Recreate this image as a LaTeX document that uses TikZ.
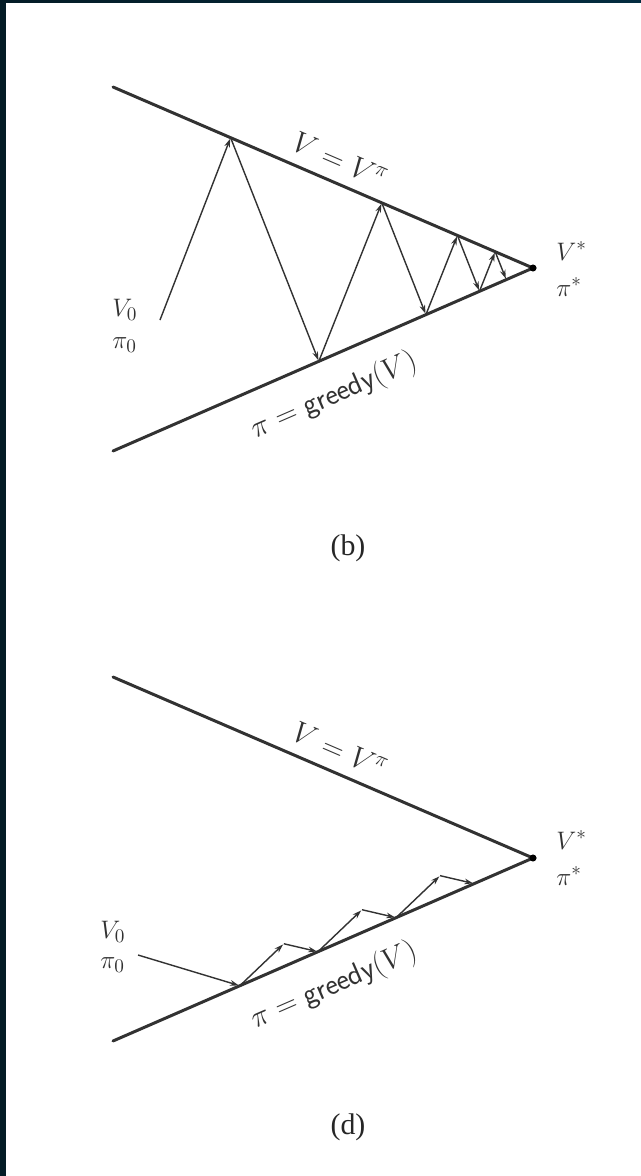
\documentclass[tikz,border=0pt]{standalone}
\usepackage{fontspec}
\newfontfamily\captfont{Liberation Serif}
\usetikzlibrary{arrows.meta, calc}
\definecolor{pagebg}{RGB}{4,28,38}
\definecolor{pagebgr}{RGB}{3,44,64}
\definecolor{inkgray}{RGB}{50,50,50}
\tikzset{
  bound/.style={line width=1.7pt, draw=inkgray, line cap=round},
  iter/.style={-{Stealth[length=5pt,width=3.2pt]}, line width=0.8pt, draw=inkgray, shorten >=0.6pt},
  lbl/.style={font=\fontsize{15}{17}\selectfont, text=inkgray, inner sep=0pt},
  biglbl/.style={lbl, font=\fontsize{17}{19}\selectfont},
  capt/.style={font=\captfont\fontsize{17}{20}\selectfont, text=black!85, inner sep=0pt},
}

\begin{document}
\begin{tikzpicture}[x=0.02cm, y=-0.02cm]
  \fill[pagebg] (0,0) rectangle (641,1176);
  \shade[left color=pagebg, right color=pagebgr] (0,0) rectangle (641,3);
  \fill[white] (6,3) rectangle (641,1176);

  % (b)
  \coordinate (bP) at (113,87);
  \coordinate (bQ) at (113,451);
  \coordinate (bA) at (533,268);
  \coordinate (bS) at (160,320);
  \draw[bound] (bP) -- (bA) -- (bQ);
  \fill[black] (bA) circle (2pt);
  \foreach \i in {0,...,3} {
    \pgfmathsetmacro\ft{0.72/2^\i}
    \pgfmathsetmacro\fb{0.51/2^\i}
    \coordinate (bT\i) at ($(bA)!\ft!(bP)$);
    \coordinate (bB\i) at ($(bA)!\fb!(bQ)$);
  }
  \draw[iter] (bS) -- (bT0);
  \foreach \i [count=\j] in {0,...,3} {
    \draw[iter] (bT\i) -- (bB\i);
    \ifnum\j<4 \draw[iter] (bB\i) -- (bT\j); \fi
  }
  \node[biglbl, rotate=-23.3] (bvpi) at (340,160) {$V = V^{\pi}$};
  \node[biglbl, rotate=23.5] (bgreedy) at (334,396) {$\pi = \mathsf{greedy}(V)$};
  \node[lbl, anchor=west] (bvstar) at (556,251) {$V^{*}$};
  \node[lbl, anchor=west] (bpistar) at (556,287) {$\pi^{*}$};
  \node[lbl, anchor=west] (bvzero) at (112,310) {$V_0$};
  \node[lbl, anchor=west] (bpizero) at (112,345) {$\pi_0$};
  \node[capt] (bcapt) at (348,548) {(b)};

  % (d)
  \coordinate (dP) at (113,677);
  \coordinate (dQ) at (113,1041);
  \coordinate (dA) at (533,858);
  \coordinate (dS) at (138,955);
  \draw[bound] (dP) -- (dA) -- (dQ);
  \fill[black] (dA) circle (2pt);
  \foreach \i in {0,...,3} {
    \pgfmathsetmacro\fl{0.302+0.186*\i}
    \coordinate (dL\i) at ($(dQ)!\fl!(dA)$);
    \coordinate (dH\i) at ($(dL\i)+(44,-42)$);
  }
  \draw[iter] (dS) -- (dL0);
  \foreach \i [count=\j] in {0,1,2} {
    \draw[iter] (dL\i) -- (dH\i);
    \draw[iter] (dH\i) -- (dL\j);
  }
  \node[biglbl, rotate=-23.3] (dvpi) at (340,750) {$V = V^{\pi}$};
  \node[biglbl, rotate=23.5] (dgreedy) at (334,986) {$\pi = \mathsf{greedy}(V)$};
  \node[lbl, anchor=west] (dvstar) at (556,840) {$V^{*}$};
  \node[lbl, anchor=west] (dpistar) at (556,876) {$\pi^{*}$};
  \node[lbl, anchor=west] (dvzero) at (100,932) {$V_0$};
  \node[lbl, anchor=west] (dpizero) at (100,965) {$\pi_0$};
  \node[capt] (dcapt) at (348,1127) {(d)};
\end{tikzpicture}
\end{document}
